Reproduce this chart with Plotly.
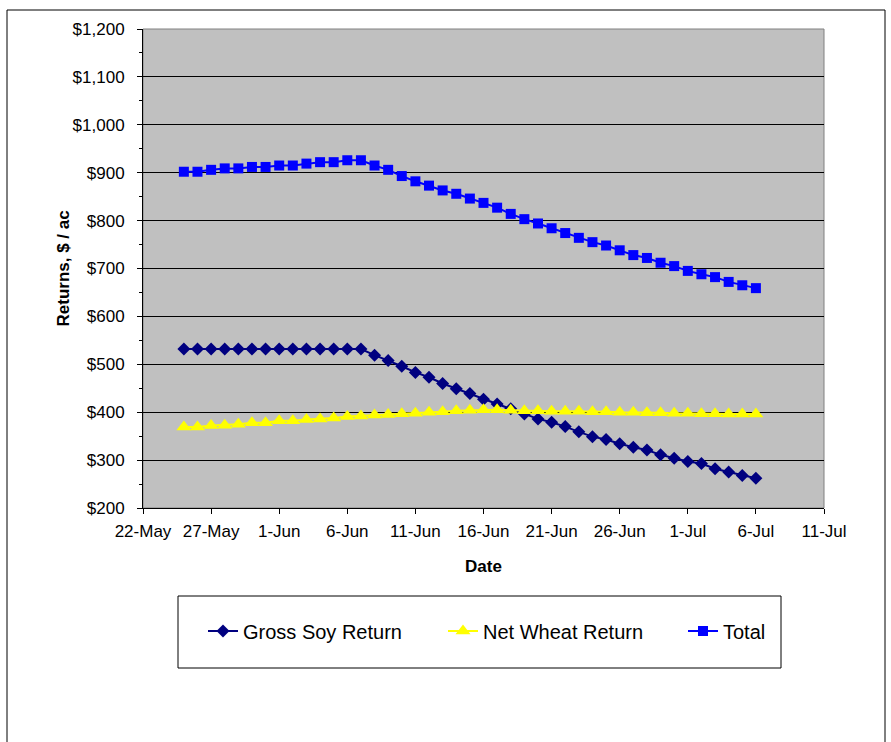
import plotly.graph_objects as go
import pandas as pd

dates = pd.date_range("2008-05-25", "2008-07-06", freq="D")

gross_soy = [532, 532, 532, 532, 532, 532, 532, 532, 532, 532, 532, 532, 532, 532,
             519, 508, 496, 483, 473, 460, 449, 439, 427, 417, 407, 396, 386, 379,
             370, 359, 349, 343, 334, 327, 321, 311, 304,
             297, 293, 282, 275, 268, 262]

net_wheat = [369, 369, 372, 373, 375, 378, 378, 382, 382, 385, 386, 388, 391, 392,
             394, 395, 397, 398, 400, 401, 403, 404, 405, 405, 404, 403, 403, 402,
             402, 402, 401, 401, 400, 400, 399, 399, 398,
             398, 397, 397, 396, 396, 396]

total = [902, 902, 906, 909, 909, 912, 912, 915, 915, 919, 922, 922, 926, 926,
         915, 906, 893, 882, 873, 863, 856, 846, 837, 827, 814, 803, 794, 784,
         774, 764, 755, 748, 738, 728, 722, 712, 705,
         695, 688, 682, 672, 665, 659]

series_names = ["Gross Soy Return", "Net Wheat Return", "Total"]

FONT = "Arial, Liberation Sans, sans-serif"
W, H = 891, 742
L, R, T, B = 143, 824, 29, 508


def px_x(p):
    return (p - L) / (R - L)


def px_y(p):
    return (B - p) / (B - T)


fig = go.Figure()
fig.add_trace(go.Scatter(x=dates, y=gross_soy, name=series_names[0], mode="lines+markers",
                         legend="legend",
                         line=dict(color="#000080", width=2),
                         marker=dict(symbol="diamond", size=10, color="#000080")))
fig.add_trace(go.Scatter(x=dates, y=net_wheat, name=series_names[1], mode="lines+markers",
                         legend="legend2",
                         line=dict(color="#FFFF00", width=2),
                         marker=dict(symbol="triangle-up", size=13, color="#FFFF00")))
fig.add_trace(go.Scatter(x=dates, y=total, name=series_names[2], mode="lines+markers",
                         legend="legend3",
                         line=dict(color="#0000FF", width=2),
                         marker=dict(symbol="square", size=10, color="#0000FF")))

leg_common = dict(orientation="h", xanchor="left", y=px_y(631), yanchor="middle",
                  bgcolor="rgba(0,0,0,0)", borderwidth=0, font=dict(size=20, color="black"))

fig.update_layout(
    width=W, height=H,
    margin=dict(l=L, r=W - R, t=T, b=H - B),
    paper_bgcolor="white",
    plot_bgcolor="#C0C0C0",
    font=dict(family=FONT, size=17, color="black"),
    showlegend=True,
    legend=dict(x=px_x(203), **leg_common),
    legend2=dict(x=px_x(443), **leg_common),
    legend3=dict(x=px_x(683), **leg_common),
    xaxis=dict(type="date", range=["2008-05-22", "2008-07-11"],
               tick0="2008-05-22", dtick=5 * 86400000, tickformat="%-d-%b",
               showgrid=False, showline=True, linecolor="black", linewidth=1,
               ticks="outside", ticklen=5, tickcolor="black", zeroline=False,
               ticklabelstandoff=3, tickfont=dict(size=17)),
    yaxis=dict(range=[200, 1200], dtick=100, tickprefix="$", tickformat=",d",
               showgrid=True, gridcolor="black", gridwidth=1,
               showline=True, linecolor="black", linewidth=1,
               ticks="outside", ticklen=5, tickcolor="black", zeroline=False,
               ticklabelstandoff=9,
               minor=dict(dtick=50, ticks="outside", ticklen=3, tickcolor="black", showgrid=False),
               tickfont=dict(size=17)),
    annotations=[
        dict(text="<b>Returns, $ / ac</b>", x=px_x(63), y=0.5, xref="paper", yref="paper",
             textangle=-90, showarrow=False, font=dict(size=17), xanchor="center", yanchor="middle"),
        dict(text="<b>Date</b>", x=0.5, y=px_y(566), xref="paper", yref="paper",
             showarrow=False, font=dict(size=17), xanchor="center", yanchor="middle"),
    ],
    shapes=[
        dict(type="rect", xref="paper", yref="paper", x0=0, x1=1, y0=0, y1=1,
             line=dict(color="#808080", width=1), layer="below"),
        dict(type="rect", xref="paper", yref="paper", x0=px_x(178), x1=px_x(781),
             y0=px_y(668), y1=px_y(596), line=dict(color="black", width=1)),
        dict(type="rect", xref="paper", yref="paper", x0=px_x(7), x1=px_x(885),
             y0=px_y(760), y1=px_y(10), line=dict(color="black", width=1)),
    ],
)

fig.write_html("out.html")
